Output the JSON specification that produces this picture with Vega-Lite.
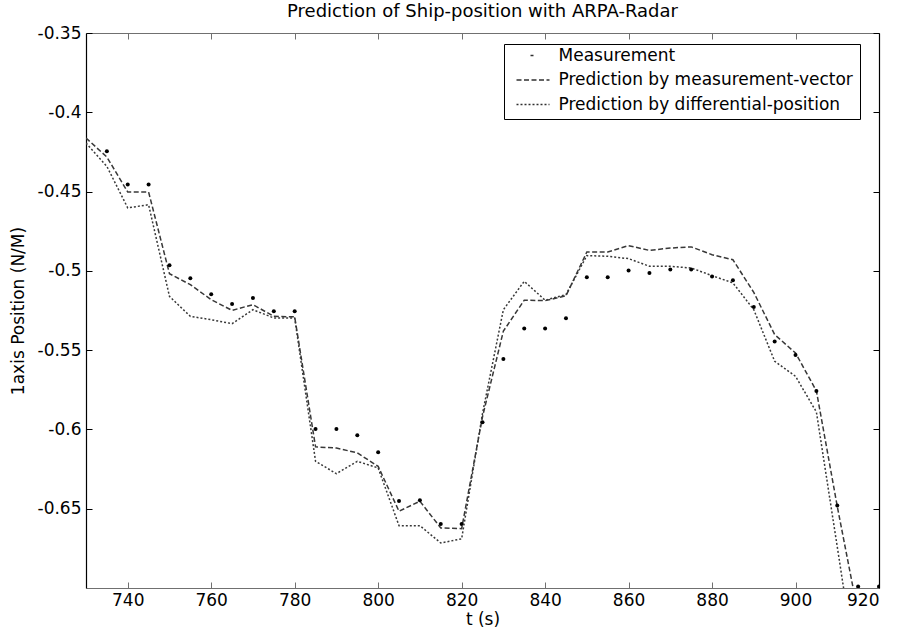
{
  "$schema": "https://vega.github.io/schema/vega-lite/v6.json",
  "autosize": {"type": "none"},
  "width": 793,
  "height": 555,
  "padding": {"left": 86, "top": 33, "right": 19, "bottom": 46},
  "background": "white",
  "title": {"text": "Prediction of Ship-position with ARPA-Radar", "fontSize": 18, "font": "DejaVu Sans", "fontWeight": "normal", "color": "black", "anchor": "middle", "offset": 3},
  "config": {
    "view": {"stroke": null},
    "font": "DejaVu Sans",
    "axis": {"labelFont": "DejaVu Sans", "labelFontSize": 17, "labelColor": "black", "titleFont": "DejaVu Sans", "titleFontSize": 17, "titleFontWeight": "normal", "titleColor": "black", "grid": false, "tickSize": -6, "tickWidth": 1, "domainWidth": 1.2, "labelExpr": "toString(datum.value)"}
  },
  "data": {"values": [
    {"s": "Measurement", "t": 735, "y": -0.4245},
    {"s": "Measurement", "t": 740, "y": -0.4455},
    {"s": "Measurement", "t": 745, "y": -0.4455},
    {"s": "Measurement", "t": 750, "y": -0.4965},
    {"s": "Measurement", "t": 755, "y": -0.5047},
    {"s": "Measurement", "t": 760, "y": -0.5148},
    {"s": "Measurement", "t": 765, "y": -0.5209},
    {"s": "Measurement", "t": 770, "y": -0.5171},
    {"s": "Measurement", "t": 775, "y": -0.5255},
    {"s": "Measurement", "t": 780, "y": -0.5255},
    {"s": "Measurement", "t": 785, "y": -0.5997},
    {"s": "Measurement", "t": 790, "y": -0.5997},
    {"s": "Measurement", "t": 795, "y": -0.6037},
    {"s": "Measurement", "t": 800, "y": -0.6144},
    {"s": "Measurement", "t": 805, "y": -0.6451},
    {"s": "Measurement", "t": 810, "y": -0.6447},
    {"s": "Measurement", "t": 815, "y": -0.6596},
    {"s": "Measurement", "t": 820, "y": -0.6596},
    {"s": "Measurement", "t": 825, "y": -0.5955},
    {"s": "Measurement", "t": 830, "y": -0.5556},
    {"s": "Measurement", "t": 835, "y": -0.5364},
    {"s": "Measurement", "t": 840, "y": -0.5364},
    {"s": "Measurement", "t": 845, "y": -0.5299},
    {"s": "Measurement", "t": 850, "y": -0.5041},
    {"s": "Measurement", "t": 855, "y": -0.5041},
    {"s": "Measurement", "t": 860, "y": -0.4997},
    {"s": "Measurement", "t": 865, "y": -0.5013},
    {"s": "Measurement", "t": 870, "y": -0.4992},
    {"s": "Measurement", "t": 875, "y": -0.4992},
    {"s": "Measurement", "t": 880, "y": -0.5035},
    {"s": "Measurement", "t": 885, "y": -0.506},
    {"s": "Measurement", "t": 890, "y": -0.5228},
    {"s": "Measurement", "t": 895, "y": -0.5446},
    {"s": "Measurement", "t": 900, "y": -0.553},
    {"s": "Measurement", "t": 905, "y": -0.5757},
    {"s": "Measurement", "t": 910, "y": -0.6479},
    {"s": "Measurement", "t": 915, "y": -0.699},
    {"s": "Measurement", "t": 920, "y": -0.699},
    {"s": "Prediction by measurement-vector", "t": 730, "y": -0.4162},
    {"s": "Prediction by measurement-vector", "t": 735, "y": -0.4282},
    {"s": "Prediction by measurement-vector", "t": 740, "y": -0.4503},
    {"s": "Prediction by measurement-vector", "t": 745, "y": -0.4503},
    {"s": "Prediction by measurement-vector", "t": 750, "y": -0.5018},
    {"s": "Prediction by measurement-vector", "t": 755, "y": -0.5087},
    {"s": "Prediction by measurement-vector", "t": 760, "y": -0.5182},
    {"s": "Prediction by measurement-vector", "t": 765, "y": -0.5249},
    {"s": "Prediction by measurement-vector", "t": 770, "y": -0.5213},
    {"s": "Prediction by measurement-vector", "t": 775, "y": -0.5287},
    {"s": "Prediction by measurement-vector", "t": 780, "y": -0.529},
    {"s": "Prediction by measurement-vector", "t": 785, "y": -0.611},
    {"s": "Prediction by measurement-vector", "t": 790, "y": -0.6117},
    {"s": "Prediction by measurement-vector", "t": 795, "y": -0.6148},
    {"s": "Prediction by measurement-vector", "t": 800, "y": -0.6233},
    {"s": "Prediction by measurement-vector", "t": 805, "y": -0.6516},
    {"s": "Prediction by measurement-vector", "t": 810, "y": -0.6453},
    {"s": "Prediction by measurement-vector", "t": 815, "y": -0.6621},
    {"s": "Prediction by measurement-vector", "t": 820, "y": -0.6626},
    {"s": "Prediction by measurement-vector", "t": 825, "y": -0.592},
    {"s": "Prediction by measurement-vector", "t": 830, "y": -0.538},
    {"s": "Prediction by measurement-vector", "t": 835, "y": -0.5185},
    {"s": "Prediction by measurement-vector", "t": 840, "y": -0.5188},
    {"s": "Prediction by measurement-vector", "t": 845, "y": -0.5157},
    {"s": "Prediction by measurement-vector", "t": 850, "y": -0.4881},
    {"s": "Prediction by measurement-vector", "t": 855, "y": -0.4881},
    {"s": "Prediction by measurement-vector", "t": 860, "y": -0.4841},
    {"s": "Prediction by measurement-vector", "t": 865, "y": -0.4871},
    {"s": "Prediction by measurement-vector", "t": 870, "y": -0.4856},
    {"s": "Prediction by measurement-vector", "t": 875, "y": -0.4849},
    {"s": "Prediction by measurement-vector", "t": 880, "y": -0.4898},
    {"s": "Prediction by measurement-vector", "t": 885, "y": -0.493},
    {"s": "Prediction by measurement-vector", "t": 890, "y": -0.5136},
    {"s": "Prediction by measurement-vector", "t": 895, "y": -0.5402},
    {"s": "Prediction by measurement-vector", "t": 900, "y": -0.5518},
    {"s": "Prediction by measurement-vector", "t": 905, "y": -0.5757},
    {"s": "Prediction by measurement-vector", "t": 910, "y": -0.6485},
    {"s": "Prediction by measurement-vector", "t": 915, "y": -0.7163},
    {"s": "Prediction by differential-position", "t": 730, "y": -0.4194},
    {"s": "Prediction by differential-position", "t": 735, "y": -0.4341},
    {"s": "Prediction by differential-position", "t": 740, "y": -0.4603},
    {"s": "Prediction by differential-position", "t": 745, "y": -0.4583},
    {"s": "Prediction by differential-position", "t": 750, "y": -0.5161},
    {"s": "Prediction by differential-position", "t": 755, "y": -0.5287},
    {"s": "Prediction by differential-position", "t": 760, "y": -0.5308},
    {"s": "Prediction by differential-position", "t": 765, "y": -0.5333},
    {"s": "Prediction by differential-position", "t": 770, "y": -0.5245},
    {"s": "Prediction by differential-position", "t": 775, "y": -0.5297},
    {"s": "Prediction by differential-position", "t": 780, "y": -0.5297},
    {"s": "Prediction by differential-position", "t": 785, "y": -0.6201},
    {"s": "Prediction by differential-position", "t": 790, "y": -0.6279},
    {"s": "Prediction by differential-position", "t": 795, "y": -0.6201},
    {"s": "Prediction by differential-position", "t": 800, "y": -0.6243},
    {"s": "Prediction by differential-position", "t": 805, "y": -0.6607},
    {"s": "Prediction by differential-position", "t": 810, "y": -0.6607},
    {"s": "Prediction by differential-position", "t": 815, "y": -0.6716},
    {"s": "Prediction by differential-position", "t": 820, "y": -0.669},
    {"s": "Prediction by differential-position", "t": 825, "y": -0.59},
    {"s": "Prediction by differential-position", "t": 830, "y": -0.5245},
    {"s": "Prediction by differential-position", "t": 835, "y": -0.5066},
    {"s": "Prediction by differential-position", "t": 840, "y": -0.5185},
    {"s": "Prediction by differential-position", "t": 845, "y": -0.515},
    {"s": "Prediction by differential-position", "t": 850, "y": -0.4904},
    {"s": "Prediction by differential-position", "t": 855, "y": -0.4908},
    {"s": "Prediction by differential-position", "t": 860, "y": -0.4923},
    {"s": "Prediction by differential-position", "t": 865, "y": -0.4971},
    {"s": "Prediction by differential-position", "t": 870, "y": -0.4971},
    {"s": "Prediction by differential-position", "t": 875, "y": -0.4982},
    {"s": "Prediction by differential-position", "t": 880, "y": -0.503},
    {"s": "Prediction by differential-position", "t": 885, "y": -0.5076},
    {"s": "Prediction by differential-position", "t": 890, "y": -0.5245},
    {"s": "Prediction by differential-position", "t": 895, "y": -0.557},
    {"s": "Prediction by differential-position", "t": 900, "y": -0.5665},
    {"s": "Prediction by differential-position", "t": 905, "y": -0.589},
    {"s": "Prediction by differential-position", "t": 910, "y": -0.674},
    {"s": "Prediction by differential-position", "t": 915, "y": -0.76}
  ]},
  "resolve": {"axis": {"x": "independent", "y": "independent"}},
  "layer": [
    {
      "transform": [{"filter": "datum.s !== 'Measurement'"}],
      "mark": {"type": "line", "clip": true, "strokeWidth": 1.5, "color": "#383838"},
      "encoding": {
        "x": {"field": "t", "type": "quantitative", "scale": {"domain": [730, 920], "nice": false, "zero": false},
          "axis": {"orient": "top", "labels": false, "title": null, "values": [740, 760, 780, 800, 820, 840, 860, 880, 900, 920], "domainColor": "#707070", "tickColor": "#707070"}},
        "y": {"field": "y", "type": "quantitative", "scale": {"domain": [-0.7, -0.35], "nice": false, "zero": false},
          "axis": {"orient": "right", "labels": false, "title": null, "values": [-0.65, -0.6, -0.55, -0.5, -0.45, -0.4, -0.35], "domainColor": "black", "tickColor": "black"}},
        "strokeDash": {"field": "s", "type": "nominal",
          "scale": {"domain": ["Measurement", "Prediction by measurement-vector", "Prediction by differential-position"], "range": [[0, 14, 3, 100], [5, 2.5], [2, 2]]},
          "legend": {"title": null, "orient": "none", "legendX": 418, "legendY": 11, "strokeColor": "black", "fillColor": "white", "padding": 6.5, "labelFontSize": 17, "labelFont": "DejaVu Sans", "labelColor": "black", "labelOffset": 8, "labelLimit": 500, "rowPadding": 7.5, "clipHeight": 10, "symbolOffset": 5, "symbolSize": 1089, "symbolType": "stroke", "symbolStrokeWidth": 1.5, "symbolStrokeColor": "#303030"}},
        "detail": {"field": "s"}
      }
    },
    {
      "transform": [{"filter": "datum.s === 'Measurement'"}],
      "mark": {"type": "point", "filled": true, "color": "black", "size": 16, "opacity": 1, "clip": true},
      "encoding": {
        "x": {"field": "t", "type": "quantitative", "scale": {"domain": [730, 920], "nice": false, "zero": false},
          "axis": {"orient": "bottom", "title": "t (s)", "values": [740, 760, 780, 800, 820, 840, 860, 880, 900, 920], "labelPadding": 10, "titlePadding": 3, "domainColor": "#707070", "tickColor": "#707070"}},
        "y": {"field": "y", "type": "quantitative", "scale": {"domain": [-0.7, -0.35], "nice": false, "zero": false},
          "axis": {"orient": "left", "title": "1axis Position (N/M)", "values": [-0.65, -0.6, -0.55, -0.5, -0.45, -0.4, -0.35], "labelPadding": 11, "titlePadding": 10, "domainColor": "black", "tickColor": "black"}}
      }
    }
  ]
}
